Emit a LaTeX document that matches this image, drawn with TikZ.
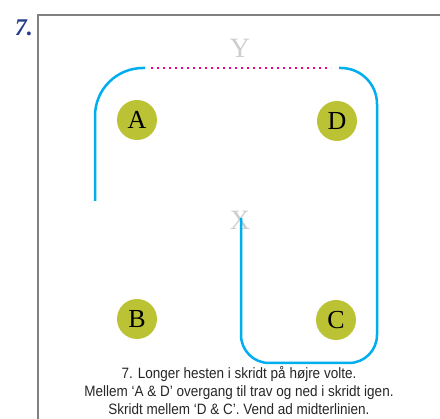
\documentclass[tikz,border=0pt]{standalone}
\usepackage{fontspec}
\setmainfont{Liberation Serif}
\newfontfamily\notefont{Liberation Sans}[FakeStretch=0.9]
\usepackage{tikz}

\definecolor{track}{RGB}{0,174,239}
\definecolor{trotline}{RGB}{236,0,140}
\definecolor{cone}{RGB}{187,194,51}
\definecolor{frame}{RGB}{128,128,128}
\definecolor{ink}{RGB}{40,62,140}
\definecolor{mark}{RGB}{205,205,205}

\tikzset{
  letter/.style={circle, fill=cone, minimum size=40pt, inner sep=0pt,
    font=\fontsize{26}{28}\selectfont},
  markletter/.style={text=mark, inner sep=0pt, font=\fontsize{28}{30}\selectfont},
  trackline/.style={draw=track, line width=2.5pt},
}

\begin{document}
\begin{tikzpicture}[x=1pt, y=-1pt]
  \useasboundingbox (0,0) rectangle (440,419);
  \draw[frame, line width=2.2pt] (38,419) -- (38,15) -- (440,15);
  \node[ink, font=\fontsize{24}{26}\selectfont\itshape\bfseries] (num) at (24,28) {7.};
  \node[markletter] (Y) at (240,48) {Y};
  \node[markletter] (X) at (240,220) {X};
  \node[letter] (A) at (137,120) {A};
  \node[letter] (D) at (337,121) {D};
  \node[letter] (B) at (137,319) {B};
  \node[letter] (C) at (336,320) {C};
  % track
  \draw[trackline, rounded corners=48pt] (95,201) -- (95,68) -- (145,68);
  \draw[trotline, line width=2pt, dash pattern=on 2pt off 4pt] (151,68) -- (331,68);
  \draw[trackline] (339,68) [rounded corners=36pt] -- (377,68) -- (377,250)
    [rounded corners=28pt] -- (377,363) -- (241,363) -- (241,218);
  \node[font=\notefont\fontsize{15}{18}\selectfont, align=center, text=black!85] (txt) at (239,391)
    {7. Longer hesten i skridt på højre volte.\\
     Mellem ‘A \& D’ overgang til trav og ned i skridt igen.\\
     Skridt mellem ‘D \& C’. Vend ad midterlinien.};
\end{tikzpicture}
\end{document}
